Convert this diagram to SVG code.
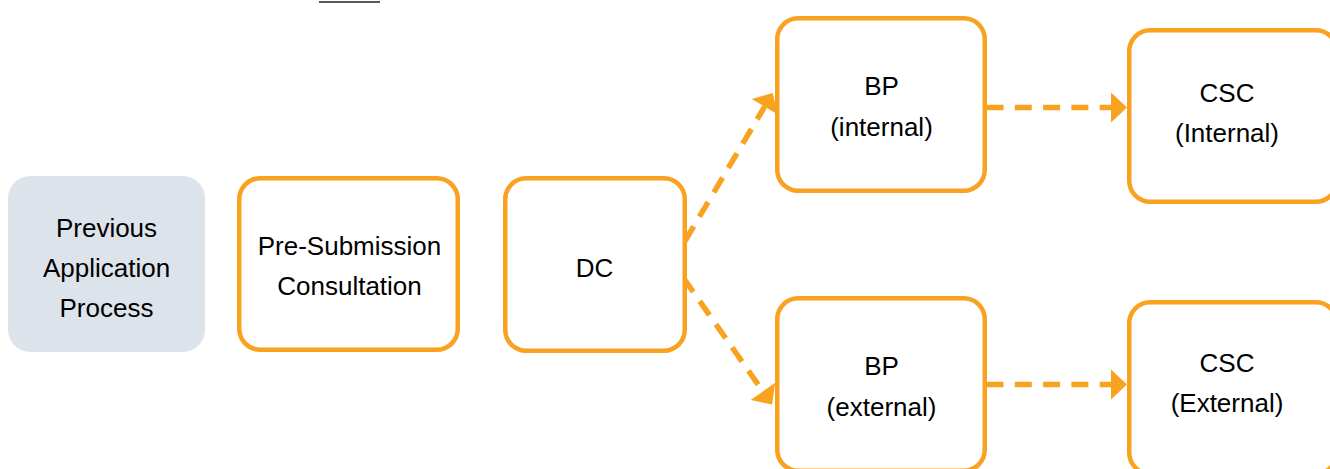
<svg xmlns="http://www.w3.org/2000/svg" width="1330" height="469" viewBox="0 0 1330 469">
  <style>
    .box { fill: #FFFFFF; stroke: #F8A21F; stroke-width: 4.5; }
    .gray { fill: #DDE3EA; stroke: none; }
    .lbl { font-family: "Liberation Sans", Arial, sans-serif; font-size: 26px; fill: #000000; text-anchor: middle; }
    .conn { fill: none; stroke: #F8A21F; stroke-width: 5.5; stroke-dasharray: 17 11.3; }
  </style>
  <defs>
    <marker id="arrow" markerUnits="userSpaceOnUse" markerWidth="17" markerHeight="31" refX="0" refY="15" orient="auto" overflow="visible">
      <path d="M0,0 L16,15 L0,30 Z" fill="#F8A21F"/>
    </marker>
  </defs>

  <line x1="319" y1="2" x2="380" y2="2" stroke="#222222" stroke-width="1.4"/>

  <g id="connectors">
    <!-- DC -> BP internal -->
    <line class="conn" x1="685" y1="241" x2="764.6" y2="106.7" marker-end="url(#arrow)"/>
    <!-- DC -> BP external -->
    <line class="conn" x1="683.5" y1="278" x2="762.9" y2="391.4" marker-end="url(#arrow)"/>
    <!-- BP internal -> CSC internal -->
    <line class="conn" x1="986.5" y1="107.5" x2="1111" y2="107.5" marker-end="url(#arrow)"/>
    <!-- BP external -> CSC external -->
    <line class="conn" x1="986.5" y1="384.5" x2="1111" y2="384.5" marker-end="url(#arrow)"/>
  </g>

  <g id="node-previous">
    <rect class="gray" x="8" y="176" width="197" height="176" rx="22"/>
    <text class="lbl" x="106.5" y="236.7">Previous</text>
    <text class="lbl" x="106.5" y="276.7">Application</text>
    <text class="lbl" x="106.5" y="316.7">Process</text>
  </g>

  <g id="node-presubmission">
    <rect class="box" x="239.25" y="178.25" width="218.5" height="171.5" rx="21"/>
    <text class="lbl" x="349.5" y="255">Pre-Submission</text>
    <text class="lbl" x="349.5" y="295">Consultation</text>
  </g>

  <g id="node-dc">
    <rect class="box" x="505.25" y="178.25" width="179.5" height="172.5" rx="21"/>
    <text class="lbl" x="594.5" y="276.7">DC</text>
  </g>

  <g id="node-bp-internal">
    <rect class="box" x="777.25" y="18.25" width="207.5" height="172.5" rx="21"/>
    <text class="lbl" x="881.5" y="95">BP</text>
    <text class="lbl" x="881.5" y="136">(internal)</text>
  </g>

  <g id="node-bp-external">
    <rect class="box" x="777.25" y="298.25" width="207.5" height="172.5" rx="21"/>
    <text class="lbl" x="881.5" y="375">BP</text>
    <text class="lbl" x="881.5" y="416">(external)</text>
  </g>

  <g id="node-csc-internal">
    <rect class="box" x="1129.25" y="30.25" width="207.5" height="171.5" rx="21"/>
    <text class="lbl" x="1227" y="102.3">CSC</text>
    <text class="lbl" x="1227" y="141.7">(Internal)</text>
  </g>

  <g id="node-csc-external">
    <rect class="box" x="1129.25" y="302.25" width="207.5" height="171.5" rx="21"/>
    <text class="lbl" x="1227" y="372.3">CSC</text>
    <text class="lbl" x="1227" y="411.7">(External)</text>
  </g>
</svg>
